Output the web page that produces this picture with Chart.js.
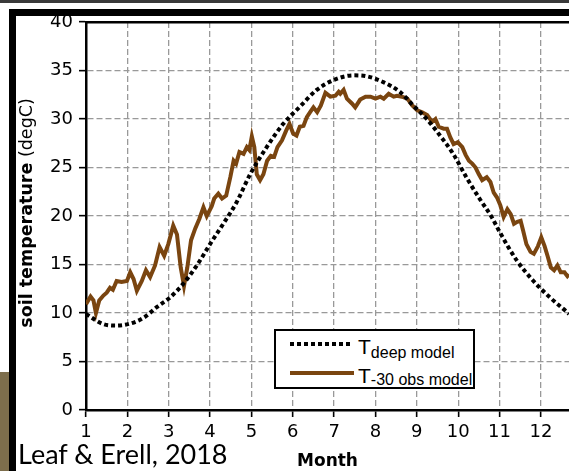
<!DOCTYPE html>
<html>
<head>
<meta charset="utf-8">
<script src="https://cdn.jsdelivr.net/npm/chart.js"></script>
<style>
  body { margin: 0; background: #fff; }
  #wrap { position: relative; width: 569px; height: 471px; overflow: hidden; background: #fff; }
  #chart { position: absolute; left: 0; top: 0; }
  .bar { position: absolute; }
  #ytitle {
    position: absolute; left: 26px; top: 213px;
    transform: translate(-50%, -50%) rotate(-90deg);
    white-space: nowrap; font: 17.5px "DejaVu Sans"; color: #000;
  }
  #legend {
    position: absolute; left: 274px; top: 329px; width: 201px; height: 60px;
    box-sizing: border-box; border: 2px solid #000; background: #fff;
  }
  .sample { position: absolute; height: 4px; }
  .lab { position: absolute; white-space: nowrap; color: #000; line-height: 1; }
  .lab .big { font: 21px "Liberation Sans"; }
  .lab .sub { font: 16px "Liberation Sans"; position: relative; }
  #cite { position: absolute; left: 18px; top: 437px; font: 27px Lato; color: #000; white-space: nowrap; }
</style>
</head>
<body>
<div id="wrap">
  <canvas id="chart" width="569" height="471"></canvas>
  <div class="bar" style="left:0;top:0;width:569px;height:3px;background:#3a3a3a"></div>
  <div class="bar" style="left:9px;top:9px;width:560px;height:7px;background:#000"></div>
  <div class="bar" style="left:9px;top:9px;width:7px;height:462px;background:#000"></div>
  <div class="bar" style="left:0;top:372px;width:9px;height:99px;background:#7d6e4c"></div>
  <div id="ytitle"><b>soil temperature</b> (degC)</div>
  <div id="legend">
    <div class="sample" style="left:14px;top:11px;width:62px;background:repeating-linear-gradient(90deg,#000 0 4px,transparent 4px 7px)"></div>
    <div class="lab" style="left:82px;top:4px"><span class="big">T</span><span class="sub" style="top:4px">deep model</span></div>
    <div class="sample" style="left:14px;top:40px;width:64px;background:#7a4510"></div>
    <div class="lab" style="left:82px;top:33px"><span class="big">T</span><span class="sub" style="top:2px">-30 obs model</span></div>
  </div>
  <div id="cite">Leaf &amp; Erell, 2018</div>
</div>
<script>
// soil temperature (month, degC)
const deepMonth = [1.00, 1.42, 1.74, 2.06, 2.39, 2.71, 3.03, 3.35, 3.68, 4.00, 4.32, 4.64, 4.97,
  5.37, 5.77, 6.18, 6.58, 6.98, 7.46, 7.79, 8.19, 8.59, 8.91, 9.24, 9.56, 9.88, 10.21, 10.53,
  10.81, 11.01, 11.42, 11.82, 12.22, 12.63, 12.68];
const deepTemp = [9.9, 8.85, 8.7, 8.9, 9.5, 10.6, 11.6, 13.0, 14.9, 17.1, 19.2, 21.4, 24.3,
  27.1, 29.5, 31.3, 33.0, 34.0, 34.5, 34.4, 33.8, 32.8, 31.4, 30.0, 28.3, 26.4, 23.9, 21.7,
  19.9, 18.3, 15.4, 13.3, 11.6, 10.1, 9.9];

const obsMonth = [1.00, 1.11, 1.18, 1.24, 1.32, 1.42, 1.50, 1.58, 1.65, 1.74, 1.86, 1.99, 2.07,
  2.15, 2.23, 2.35, 2.45, 2.55, 2.67, 2.78, 2.89, 2.99, 3.11, 3.20, 3.29, 3.37, 3.45, 3.54,
  3.64, 3.74, 3.84, 3.92, 4.04, 4.10, 4.20, 4.29, 4.39, 4.49, 4.57, 4.63, 4.71, 4.81, 4.89,
  4.95, 5.01, 5.07, 5.13, 5.21, 5.29, 5.38, 5.47, 5.55, 5.63, 5.74, 5.84, 5.92, 6.01, 6.09,
  6.17, 6.26, 6.34, 6.42, 6.50, 6.59, 6.68, 6.79, 6.91, 7.03, 7.11, 7.15, 7.23, 7.31, 7.43,
  7.51, 7.63, 7.76, 7.88, 8.00, 8.12, 8.20, 8.32, 8.44, 8.52, 8.64, 8.77, 8.89, 9.01, 9.13,
  9.25, 9.37, 9.45, 9.53, 9.65, 9.73, 9.81, 9.89, 9.99, 10.10, 10.18, 10.26, 10.34, 10.42,
  10.50, 10.58, 10.69, 10.78, 10.86, 10.94, 11.02, 11.10, 11.19, 11.27, 11.35, 11.43, 11.51,
  11.57, 11.65, 11.75, 11.83, 11.93, 12.01, 12.09, 12.16, 12.24, 12.32, 12.40, 12.48, 12.57,
  12.64, 12.68];
const obsTemp = [10.9, 11.7, 11.3, 10.0, 11.3, 11.8, 12.1, 12.6, 12.4, 13.3, 13.2, 13.3, 14.2,
  13.5, 12.3, 13.3, 14.4, 13.7, 14.9, 16.8, 15.9, 17.1, 19.0, 18.1, 14.7, 12.8, 14.7, 17.5,
  18.7, 19.7, 20.9, 20.0, 21.0, 21.8, 22.3, 21.8, 22.1, 24.0, 25.7, 25.4, 26.6, 26.4, 27.1,
  26.8, 28.2, 27.1, 24.3, 23.7, 24.3, 25.7, 26.2, 26.1, 27.1, 27.8, 28.8, 29.5, 28.5, 28.3,
  29.2, 29.3, 30.2, 30.7, 31.2, 30.7, 31.4, 32.7, 32.3, 32.4, 32.8, 32.6, 33.0, 32.1, 31.6,
  31.2, 32.0, 32.3, 32.3, 32.1, 32.3, 32.1, 32.6, 32.3, 32.4, 32.3, 32.1, 31.4, 30.9, 30.7,
  30.4, 29.7, 30.0, 29.2, 29.0, 29.0, 28.1, 27.4, 27.6, 27.1, 26.3, 25.7, 25.4, 25.0,
  24.3, 23.7, 24.0, 23.5, 22.4, 21.9, 21.1, 19.9, 20.7, 20.2, 19.2, 19.4, 19.5,
  18.5, 17.1, 16.3, 16.1, 16.9, 17.8, 16.9, 15.9, 14.7, 14.4, 14.9, 14.2, 14.2,
  13.8, 14.0];

const monthTicks = [1, 2, 3, 4, 5, 6, 7, 8, 9, 10, 11, 12];
const tempTicks = [0, 5, 10, 15, 20, 25, 30, 35, 40];

function points(xs, ys) {
  return xs.map(function (x, i) { return { x: x, y: ys[i] }; });
}

const tickFont = { family: "DejaVu Sans", size: 18 };

const chart = new Chart(document.getElementById("chart").getContext("2d"), {
  type: "line",
  data: {
    datasets: [
      {
        label: "T deep model",
        data: points(deepMonth, deepTemp),
        borderColor: "#000",
        borderWidth: 4,
        borderDash: [4, 3],
        borderCapStyle: "butt",
        cubicInterpolationMode: "monotone",
        pointRadius: 0,
      },
      {
        label: "T -30 obs model",
        data: points(obsMonth, obsTemp),
        borderColor: "#7a4510",
        borderWidth: 4,
        tension: 0,
        pointRadius: 0,
      },
    ],
  },
  options: {
    responsive: false,
    animation: false,
    layout: { padding: { top: 22, right: 0, bottom: 0, left: 0 } },
    plugins: { legend: { display: false }, tooltip: { enabled: false } },
    scales: {
      x: {
        type: "linear",
        position: "bottom",
        min: 1,
        max: 12.68,
        afterFit: function (scale) { scale.height = 61; },
        afterBuildTicks: function (scale) {
          scale.ticks = monthTicks.map(function (v) { return { value: v }; });
        },
        ticks: { font: tickFont, color: "#000", padding: 5, maxRotation: 0, autoSkip: false },
        grid: { color: "#999", lineWidth: 1.3, tickColor: "#000", tickLength: 7, tickWidth: 1.6, tickBorderDash: [] },
        border: { color: "#000", width: 2.5, dash: [6, 3] },
        title: {
          display: true,
          text: "Month",
          color: "#000",
          font: { family: "DejaVu Sans", size: 17, weight: "bold", lineHeight: 1 },
          padding: { top: 0, bottom: 1 },
        },
      },
      xTop: {
        type: "linear",
        position: "top",
        min: 1,
        max: 12.68,
        afterFit: function (scale) { scale.height = 0; },
        ticks: { display: false },
        grid: { display: false },
        border: { color: "#000", width: 2.5 },
      },
      y: {
        min: 0,
        max: 40,
        afterFit: function (scale) { scale.width = 86; },
        afterBuildTicks: function (scale) {
          scale.ticks = tempTicks.map(function (v) { return { value: v }; });
        },
        ticks: { font: tickFont, color: "#000", padding: 6 },
        grid: { color: "#999", lineWidth: 1.3, tickColor: "#000", tickLength: 7, tickWidth: 1.6, tickBorderDash: [] },
        border: { color: "#000", width: 2.5, dash: [6, 3] },
      },
    },
  },
});
</script>
</body>
</html>
